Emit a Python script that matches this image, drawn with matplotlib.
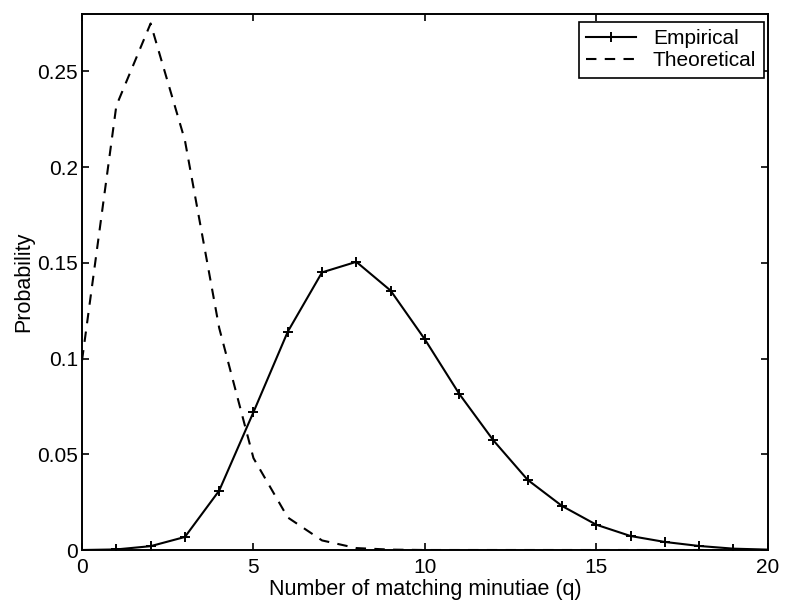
import matplotlib
matplotlib.use('Agg')
import matplotlib.pyplot as plt

plt.rcParams['font.family'] = ['Liberation Sans', 'DejaVu Sans']

# number of matching minutiae
q = list(range(21))

empirical = [0.0, 0.0003, 0.002, 0.0068, 0.031, 0.072, 0.114, 0.145, 0.1505, 0.1355,
             0.110, 0.0816, 0.0572, 0.0366, 0.023, 0.0132, 0.0073, 0.0042, 0.0021, 0.0007, 0.0002]

theoretical = [0.099, 0.232, 0.275, 0.214, 0.116, 0.048, 0.017, 0.005, 0.001, 0.0002,
               0.0, 0.0, 0.0, 0.0, 0.0, 0.0, 0.0, 0.0, 0.0, 0.0, 0.0]

fig = plt.figure(figsize=(7.85, 6.04), dpi=100)
ax = fig.add_axes([0.1045, 0.0894, 0.8735, 0.8876])

ax.plot(q, empirical, color='black', linewidth=1.5, marker='+', markersize=7,
        markeredgewidth=1.4, label='Empirical')
ax.plot(q, theoretical, color='black', linewidth=1.5, linestyle=(0, (5, 4)),
        label='Theoretical')

ax.set_xlim(0, 20)
ax.set_ylim(0, 0.28)
ax.set_xticks([0, 5, 10, 15, 20])
ax.set_yticks([0, 0.05, 0.1, 0.15, 0.2, 0.25])
ax.set_yticklabels(['0', '0.05', '0.1', '0.15', '0.2', '0.25'])
ax.tick_params(direction='in', top=True, right=True, length=5, width=1.2, labelsize=15)
ax.tick_params(axis='x', pad=6)
ax.tick_params(axis='y', pad=3)
for s in ax.spines.values():
    s.set_linewidth(1.4)

ax.set_xlabel('Number of matching minutiae (q)', fontsize=15.5, labelpad=1)
ax.set_ylabel('Probability', fontsize=15.5, labelpad=2)

leg = ax.legend(loc='upper right', bbox_to_anchor=(0.994, 0.985), fontsize=15,
                fancybox=False, edgecolor='black', framealpha=1, handlelength=2.4,
                handletextpad=0.8, borderaxespad=0.0, borderpad=0.35, labelspacing=0.15)
leg.get_frame().set_linewidth(1.2)

fig.savefig('out.png', dpi=100)
